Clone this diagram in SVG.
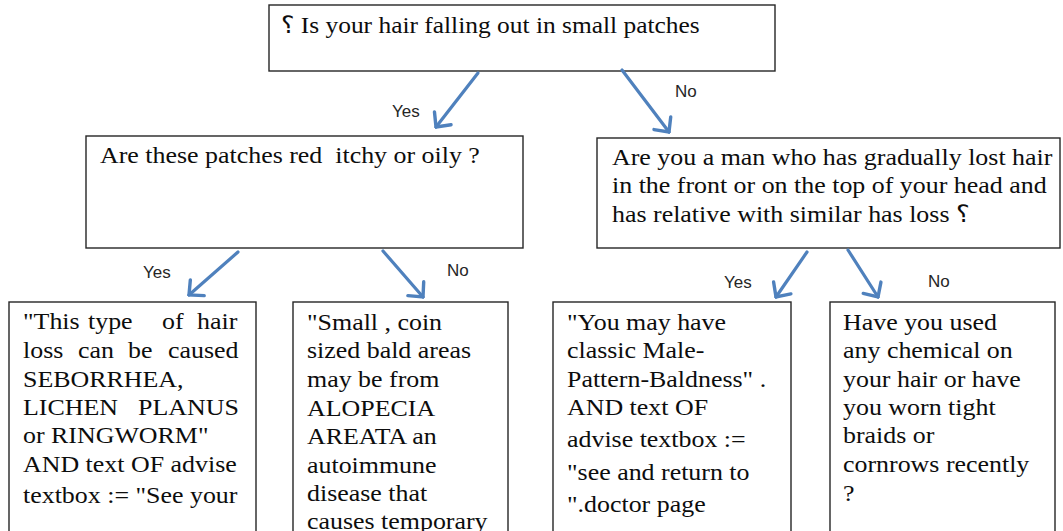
<svg xmlns="http://www.w3.org/2000/svg" width="1063" height="531" viewBox="0 0 1063 531">
  <defs>
    <style>
      .box { fill: #ffffff; stroke: #262626; stroke-width: 1.4; }
      .t { font-family: "Liberation Serif", "Times New Roman", serif; font-size: 24px; fill: #0d0d0d; white-space: pre; }
      .lbl { font-family: "Liberation Sans", Arial, sans-serif; font-size: 17px; fill: #262626; }
      .arrow { fill: none; stroke: #4F81BD; stroke-width: 3.2; stroke-linecap: round; marker-end: url(#head); }
    </style>
    <marker id="head" markerUnits="userSpaceOnUse" viewBox="-14 -14 16 28" refX="0" refY="0" markerWidth="16" markerHeight="28" orient="auto">
      <path d="M-11,-10.5 L0,0 L-11,10.5" fill="none" stroke="#4F81BD" stroke-width="3.4" stroke-linejoin="miter" stroke-linecap="round"/>
    </marker>
  </defs>
  <rect width="1063" height="531" fill="#ffffff"/>

  <g id="q1">
    <rect class="box" x="269" y="5" width="506" height="66"/>
    <text class="t" transform="matrix(1.06 0 0 1 281 0)" x="0" y="33">؟ Is your hair falling out in small patches</text>
  </g>

  <g id="q2">
    <rect class="box" x="86" y="136" width="437" height="112"/>
    <text class="t" transform="matrix(1.08 0 0 1 100 0)" x="0" y="163">Are these patches red  itchy or oily ?</text>
  </g>

  <g id="q3">
    <rect class="box" x="597" y="138" width="463" height="110"/>
    <text class="t" transform="matrix(1.08 0 0 1 612 0)">
      <tspan x="0" y="165">Are you a man who has gradually lost hair</tspan>
      <tspan x="0" y="193">in the front or on the top of your head and</tspan>
      <tspan x="0" y="222">has relative with similar has loss ؟</tspan>
    </text>
  </g>

  <g id="r1">
    <rect class="box" x="9" y="302" width="247" height="240"/>
    <text class="t" transform="matrix(1.08 0 0 1 23 0)">
      <tspan x="0" y="329">"This</tspan><tspan x="60.2" y="329">type</tspan><tspan x="128.7" y="329">of</tspan><tspan x="161.1" y="329">hair</tspan>
      <tspan x="0" y="358">loss</tspan><tspan x="50.9" y="358">can</tspan><tspan x="97.2" y="358">be</tspan><tspan x="134.3" y="358">caused</tspan>
      <tspan x="0" y="387">SEBORRHEA,</tspan>
      <tspan x="0" y="415">LICHEN</tspan><tspan x="106.5" y="415">PLANUS</tspan>
      <tspan x="0" y="443">or RINGWORM"</tspan>
      <tspan x="0" y="472">AND text OF advise</tspan>
      <tspan x="0" y="503">textbox := "See your</tspan>
    </text>
  </g>

  <g id="r2">
    <rect class="box" x="293" y="302" width="215" height="240"/>
    <text class="t" transform="matrix(1.08 0 0 1 307 0)">
      <tspan x="0" y="330">"Small , coin</tspan>
      <tspan x="0" y="358">sized bald areas</tspan>
      <tspan x="0" y="387">may be from</tspan>
      <tspan x="0" y="416">ALOPECIA</tspan>
      <tspan x="0" y="444">AREATA an</tspan>
      <tspan x="0" y="473">autoimmune</tspan>
      <tspan x="0" y="501">disease that</tspan>
      <tspan x="0" y="529">causes temporary</tspan>
    </text>
  </g>

  <g id="r3">
    <rect class="box" x="553" y="302" width="238" height="240"/>
    <text class="t" transform="matrix(1.08 0 0 1 567 0)">
      <tspan x="0" y="330">"You may have</tspan>
      <tspan x="0" y="358">classic Male-</tspan>
      <tspan x="0" y="387">Pattern-Baldness" .</tspan>
      <tspan x="0" y="415">AND text OF</tspan>
      <tspan x="0" y="447">advise textbox :=</tspan>
      <tspan x="0" y="480">"see and return to</tspan>
      <tspan x="0" y="512">".doctor page</tspan>
    </text>
  </g>

  <g id="q4">
    <rect class="box" x="830" y="302" width="225" height="240"/>
    <text class="t" transform="matrix(1.08 0 0 1 843 0)">
      <tspan x="0" y="330">Have you used</tspan>
      <tspan x="0" y="358">any chemical on</tspan>
      <tspan x="0" y="387">your hair or have</tspan>
      <tspan x="0" y="415">you worn tight</tspan>
      <tspan x="0" y="443">braids or</tspan>
      <tspan x="0" y="472">cornrows recently</tspan>
      <tspan x="0" y="501">?</tspan>
    </text>
  </g>

  <g id="connectors">
    <line class="arrow" x1="478" y1="73" x2="436" y2="127"/>
    <line class="arrow" x1="622" y1="70" x2="669" y2="132"/>
    <line class="arrow" x1="238" y1="252" x2="189" y2="295"/>
    <line class="arrow" x1="383" y1="251" x2="423" y2="297"/>
    <line class="arrow" x1="807" y1="252" x2="776" y2="297"/>
    <line class="arrow" x1="848" y1="250" x2="878" y2="297"/>
    <text class="lbl" x="392" y="117">Yes</text>
    <text class="lbl" x="675" y="97">No</text>
    <text class="lbl" x="143" y="278">Yes</text>
    <text class="lbl" x="447" y="276">No</text>
    <text class="lbl" x="724" y="288">Yes</text>
    <text class="lbl" x="928" y="287">No</text>
  </g>
</svg>
